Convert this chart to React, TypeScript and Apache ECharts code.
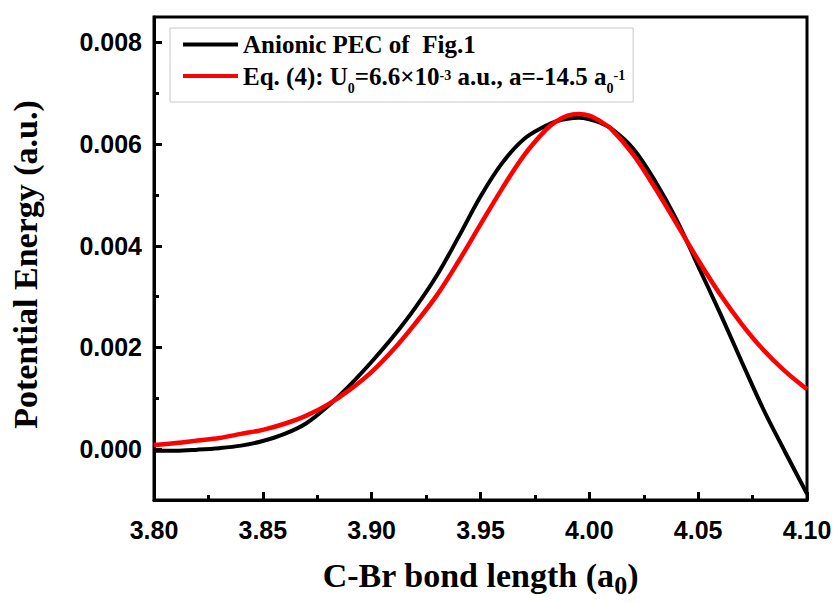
import React, { useEffect, useRef } from "react";
import * as echarts from "echarts";

const bondLength = [
  3.8, 3.81, 3.82, 3.83, 3.84, 3.85, 3.86, 3.87, 3.88, 3.89, 3.9, 3.91, 3.92, 3.93, 3.94, 3.95,
  3.96, 3.97, 3.98, 3.985, 3.99, 3.995, 4.0, 4.005, 4.01, 4.02, 4.03, 4.04, 4.05, 4.06, 4.07, 4.08,
  4.09, 4.1,
];

const anionicPEC = [
  -0.00003, -0.00003, -0.00001, 0.00002, 0.00007, 0.00016, 0.0003, 0.00051, 0.00085, 0.00126,
  0.00172, 0.00222, 0.00278, 0.00342, 0.00418, 0.00497, 0.00563, 0.0061, 0.00636, 0.00645, 0.0065,
  0.00652, 0.00649, 0.00642, 0.00631, 0.00592, 0.00529, 0.00452, 0.0036, 0.00268, 0.00172, 0.00078,
  -0.00006, -0.00088,
];

const eq4Fit = [
  0.00008, 0.00012, 0.00017, 0.00022, 0.0003, 0.00038, 0.0005, 0.00066, 0.00088, 0.00117, 0.00152,
  0.00196, 0.00247, 0.00303, 0.0037, 0.00442, 0.00513, 0.00578, 0.00628, 0.00645, 0.00656, 0.00659,
  0.00656, 0.00645, 0.0063, 0.0058, 0.00515, 0.00444, 0.00372, 0.00305, 0.00246, 0.00195, 0.00153,
  0.00118,
];

const yMajorTicks = [0, 0.002, 0.004, 0.006, 0.008];
const yMinorTicks = [0.001, 0.003, 0.005, 0.007];

const seriesNames = ["Anionic PEC of  Fig.1", "Eq. (4)"];

const serif = "'Liberation Serif', 'Times New Roman', serif";
const sans = "'Liberation Sans', Arial, sans-serif";

export default function App() {
  const ref = useRef<HTMLDivElement>(null);
  useEffect(() => {
    if (!ref.current) return;
    const chart = echarts.init(ref.current, null, { renderer: "svg" });
    const tickLabel = {
      fontFamily: sans,
      fontWeight: "bold" as const,
      fontSize: 25,
      color: "#000",
    };
    const option: any = {
      animation: false,
      backgroundColor: "#fff",
      grid: {
        left: 153,
        right: 31,
        top: 17,
        bottom: 96,
        show: true,
        borderColor: "#000",
        borderWidth: 3,
        backgroundColor: "transparent",
      },
      legend: {
        show: true,
        orient: "vertical",
        left: 170,
        top: 28,
        padding: [4, 8, 7, 13],
        itemGap: 0,
        itemWidth: 55,
        itemHeight: 4,
        icon: "rect",
        backgroundColor: "#fff",
        borderColor: "#c8c8c8",
        borderWidth: 1,
        data: seriesNames,
        formatter: (name: string) =>
          name === seriesNames[0]
            ? "{a|" + name + "}"
            : "{t|Eq. (4): U}{sub|0}{t|=6.6×10}{sup|-3}{t| a.u., a=-14.5 a}{sub|0}{sup|-1}",
        textStyle: {
          fontFamily: serif,
          fontWeight: "bold",
          fontSize: 25,
          color: "#000",
          rich: {
            a: { fontFamily: serif, fontWeight: "bold", fontSize: 25, lineHeight: 26, color: "#000" },
            t: { fontFamily: serif, fontWeight: "bold", fontSize: 25, lineHeight: 38, color: "#000" },
            sub: {
              fontFamily: serif,
              fontWeight: "bold",
              fontSize: 14,
              lineHeight: 14,
              verticalAlign: "bottom",
              color: "#000",
            },
            sup: {
              fontFamily: serif,
              fontWeight: "bold",
              fontSize: 14,
              lineHeight: 14,
              verticalAlign: "top",
              padding: [11, 0, 0, 0],
              color: "#000",
            },
          },
        },
      },
      xAxis: {
        type: "value",
        min: 3.8,
        max: 4.1,
        interval: 0.05,
        axisLine: { show: true, onZero: false, lineStyle: { color: "#000", width: 3 } },
        axisTick: { show: true, inside: true, length: 8, lineStyle: { color: "#000", width: 3 } },
        minorTick: { show: true, splitNumber: 2, length: 5, lineStyle: { color: "#000", width: 3 } },
        splitLine: { show: false },
        axisLabel: { ...tickLabel, margin: 17, formatter: (v: number) => v.toFixed(2) },
        name: "{b|C-Br bond length (a}{s|0}{b|)}",
        nameLocation: "middle",
        nameGap: 52,
        nameTextStyle: {
          rich: {
            b: { fontFamily: serif, fontWeight: "bold", fontSize: 34, color: "#000", lineHeight: 46 },
            s: {
              fontFamily: serif,
              fontWeight: "bold",
              fontSize: 26,
              color: "#000",
              lineHeight: 26,
              verticalAlign: "bottom",
            },
          },
        },
      },
      yAxis: [
        {
          type: "value",
          min: -0.001,
          max: 0.0085,
          position: "left",
          axisLine: { show: true, onZero: false, lineStyle: { color: "#000", width: 3 } },
          axisTick: {
            show: true,
            inside: true,
            length: 8,
            customValues: yMajorTicks,
            lineStyle: { color: "#000", width: 3 },
          },
          splitLine: { show: false },
          axisLabel: {
            ...tickLabel,
            margin: 12,
            customValues: yMajorTicks,
            formatter: (v: number) => v.toFixed(3),
          },
          name: "Potential Energy (a.u.)",
          nameLocation: "middle",
          nameRotate: 90,
          nameGap: 112,
          nameTextStyle: {
            fontFamily: serif,
            fontWeight: "bold",
            fontSize: 34,
            color: "#000",
            padding: [0, 12, 0, 0],
          },
        },
        {
          type: "value",
          min: -0.001,
          max: 0.0085,
          position: "left",
          offset: 0,
          axisLine: { show: false },
          axisTick: {
            show: true,
            inside: true,
            length: 5,
            customValues: yMinorTicks,
            lineStyle: { color: "#000", width: 3 },
          },
          axisLabel: { show: false },
          splitLine: { show: false },
        },
      ],
      series: [
        {
          name: seriesNames[0],
          type: "line",
          smooth: 0.35,
          showSymbol: false,
          symbol: "none",
          color: "#000",
          lineStyle: { color: "#000", width: 4 },
          data: bondLength.map((x, i) => [x, anionicPEC[i]]),
          z: 2,
        },
        {
          name: seriesNames[1],
          type: "line",
          smooth: 0.35,
          showSymbol: false,
          symbol: "none",
          color: "#ff0000",
          lineStyle: { color: "#ff0000", width: 4.5 },
          data: bondLength.map((x, i) => [x, eq4Fit[i]]),
          z: 3,
        },
      ],
    };
    chart.setOption(option);
    return () => chart.dispose();
  }, []);
  return <div ref={ref} style={{ width: 838, height: 603, position: "absolute", left: 0, top: 0 }} />;
}
